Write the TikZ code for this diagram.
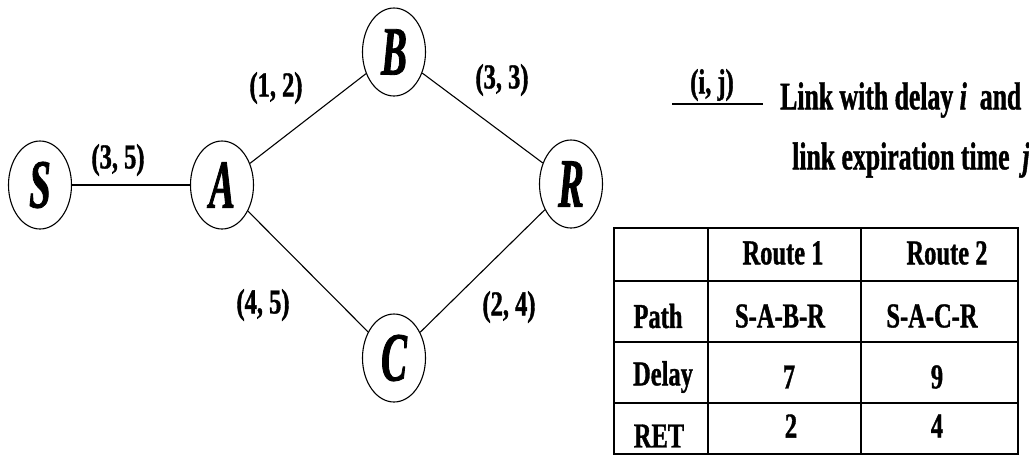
\documentclass[tikz,border=0pt]{standalone}
\usepackage{fontspec}
\setmainfont{Liberation Serif}
\newfontfamily\tfont[FakeStretch=0.70,FakeBold=1]{Liberation Serif}
\newfontfamily\lfont[FakeStretch=0.66,FakeBold=1]{Liberation Serif}
\newfontfamily\nfont[FakeStretch=0.56,FakeBold=1.2]{Liberation Serif}
\usetikzlibrary{shapes.geometric}
\begin{document}
\begin{tikzpicture}[x=1pt,y=-1pt,
  vertex/.style={ellipse,draw,line width=1.1pt,minimum width=63pt,minimum height=88pt,inner sep=0pt,
     font=\nfont\bfseries\itshape\fontsize{69}{72}\selectfont},
  elabel/.style={font=\tfont\bfseries\fontsize{35}{37}\selectfont,inner sep=0pt},
  cell/.style={font=\tfont\bfseries\fontsize{35}{37}\selectfont,inner sep=0pt},
  legend/.style={font=\lfont\bfseries\fontsize{39}{41}\selectfont,inner sep=0pt,anchor=west},
  link/.style={line width=1.1pt},
  grid/.style={line width=1.5pt}]
\useasboundingbox (0,0) rectangle (1029,456);
% nodes
\node[vertex] (S) at (40,185) {S};
\node[vertex] (A) at (222,185) {A};
\node[vertex] (B) at (394,52) {B};
\node[vertex] (C) at (394,358) {C};
\node[vertex] (R) at (571,184) {R};
% links
\draw[link] (S) -- (A);
\draw[link] (A) -- (B);
\draw[link] (B) -- (R);
\draw[link] (A) -- (C);
\draw[link] (C) -- (R);
% link labels
\node[elabel] (lSA) at (118,160) {(3, 5)};
\node[elabel] (lAB) at (276,88) {(1, 2)};
\node[elabel] (lBR) at (502,80) {(3, 3)};
\node[elabel] (lAC) at (263,305) {(4, 5)};
\node[elabel] (lCR) at (509,307) {(2, 4)};
% legend
\coordinate (lg1) at (672,104);
\coordinate (lg2) at (763,104);
\draw[link] (lg1) -- (lg2);
\node[elabel] (lgij) at (712,85) {(i, j)};
\node[legend] (lgt1) at (780,100) {Link with delay \textit{i}\,\ and};
\node[legend] (lgt2) at (792,160) {link expiration time \,\textit{j}};
% table
\draw[grid] (614,228) rectangle (1018,454);
\draw[grid] (614,281) -- (1018,281);
\draw[grid] (614,342) -- (1018,342);
\draw[grid] (614,403) -- (1018,403);
\draw[grid] (708,228) -- (708,454);
\draw[grid] (861,228) -- (861,454);
\node[cell] (h1) at (783,253) {Route 1};
\node[cell] (h2) at (947,253) {Route 2};
\node[cell] (p0) at (658,316) {Path};
\node[cell] (p1) at (780,316) {S-A-B-R};
\node[cell] (p2) at (932,316) {S-A-C-R};
\node[cell] (d0) at (663,377) {Delay};
\node[cell] (d1) at (789,377) {7};
\node[cell] (d2) at (937,377) {9};
\node[cell] (r0) at (659,436) {RET};
\node[cell] (r1) at (791,426) {2};
\node[cell] (r2) at (937,426) {4};
\end{tikzpicture}
\end{document}
